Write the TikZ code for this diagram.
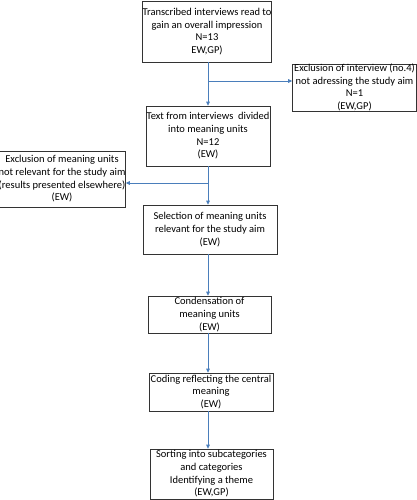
\documentclass[tikz,border=0pt]{standalone}
\usepackage{fontspec}
\setmainfont{Carlito}
\usepackage{tikz}
\usetikzlibrary{positioning,arrows.meta}
\definecolor{flowblue}{HTML}{4A7EBB}

\begin{document}
\begin{tikzpicture}[x=1pt, y=-1pt,
    box/.style={draw=black!80, line width=0.7pt, rectangle, align=center,
        inner sep=0pt, font=\fontsize{10.5}{12.7}\selectfont},
    arr/.style={draw=flowblue, line width=0.8pt, -{Triangle[length=4pt,width=3.6pt]}}]

    \useasboundingbox (0,0) rectangle (417,500);

    \node[box, minimum width=128pt, minimum height=61pt] (read) at (207,31.5)
        {Transcribed interviews read to\\gain an overall impression\\N=13\\EW,GP)};
    \node[box, minimum width=124pt, minimum height=45pt] (exint) at (354.5,87.5)
        {Exclusion of interview (no.4)\\not adressing the study aim\\N=1\\(EW,GP)};
    \node[box, minimum width=124pt, minimum height=60pt] (units) at (208,136)
        {Text from interviews\ \ divided\\into meaning units\\N=12\\(EW)};
    \node[box, minimum width=124pt, minimum height=56pt] (exunits) at (62,179)
        {Exclusion of meaning units\\not relevant for the study aim\\(results presented elsewhere)\\(EW)};
    \node[box, minimum width=134pt, minimum height=49pt] (select) at (210,229.5)
        {Selection of meaning units\\relevant for the study aim\\(EW)};
    \node[box, minimum width=123pt, minimum height=37pt] (cond) at (209.5,314.5)
        {Condensation of\\meaning units\\(EW)};
    \node[box, minimum width=124pt, minimum height=38pt] (coding) at (211,392)
        {Coding reflecting the central\\meaning\\(EW)};
    \node[box, minimum width=123pt, minimum height=50pt] (sort) at (211.5,474)
        {Sorting into subcategories\\and categories\\Identifying a theme\\(EW,GP)};

    % trunk and branches
    \coordinate (j1) at (208,81);
    \coordinate (j2) at (208,183);

    \draw[arr] (j1 |- read.south) -- (j1 |- units.north);
    \draw[arr] (j1) -- (j1 -| exint.west);
    \draw[arr] (j2 |- units.south) -- (j2 |- select.north);
    \draw[arr] (j2) -- (j2 -| exunits.east);
    \draw[arr] (j2 |- select.south) -- (j2 |- cond.north);
    \draw[arr] (j2 |- cond.south) -- (j2 |- coding.north);
    \draw[arr] (j2 |- coding.south) -- (j2 |- sort.north);

\end{tikzpicture}
\end{document}
